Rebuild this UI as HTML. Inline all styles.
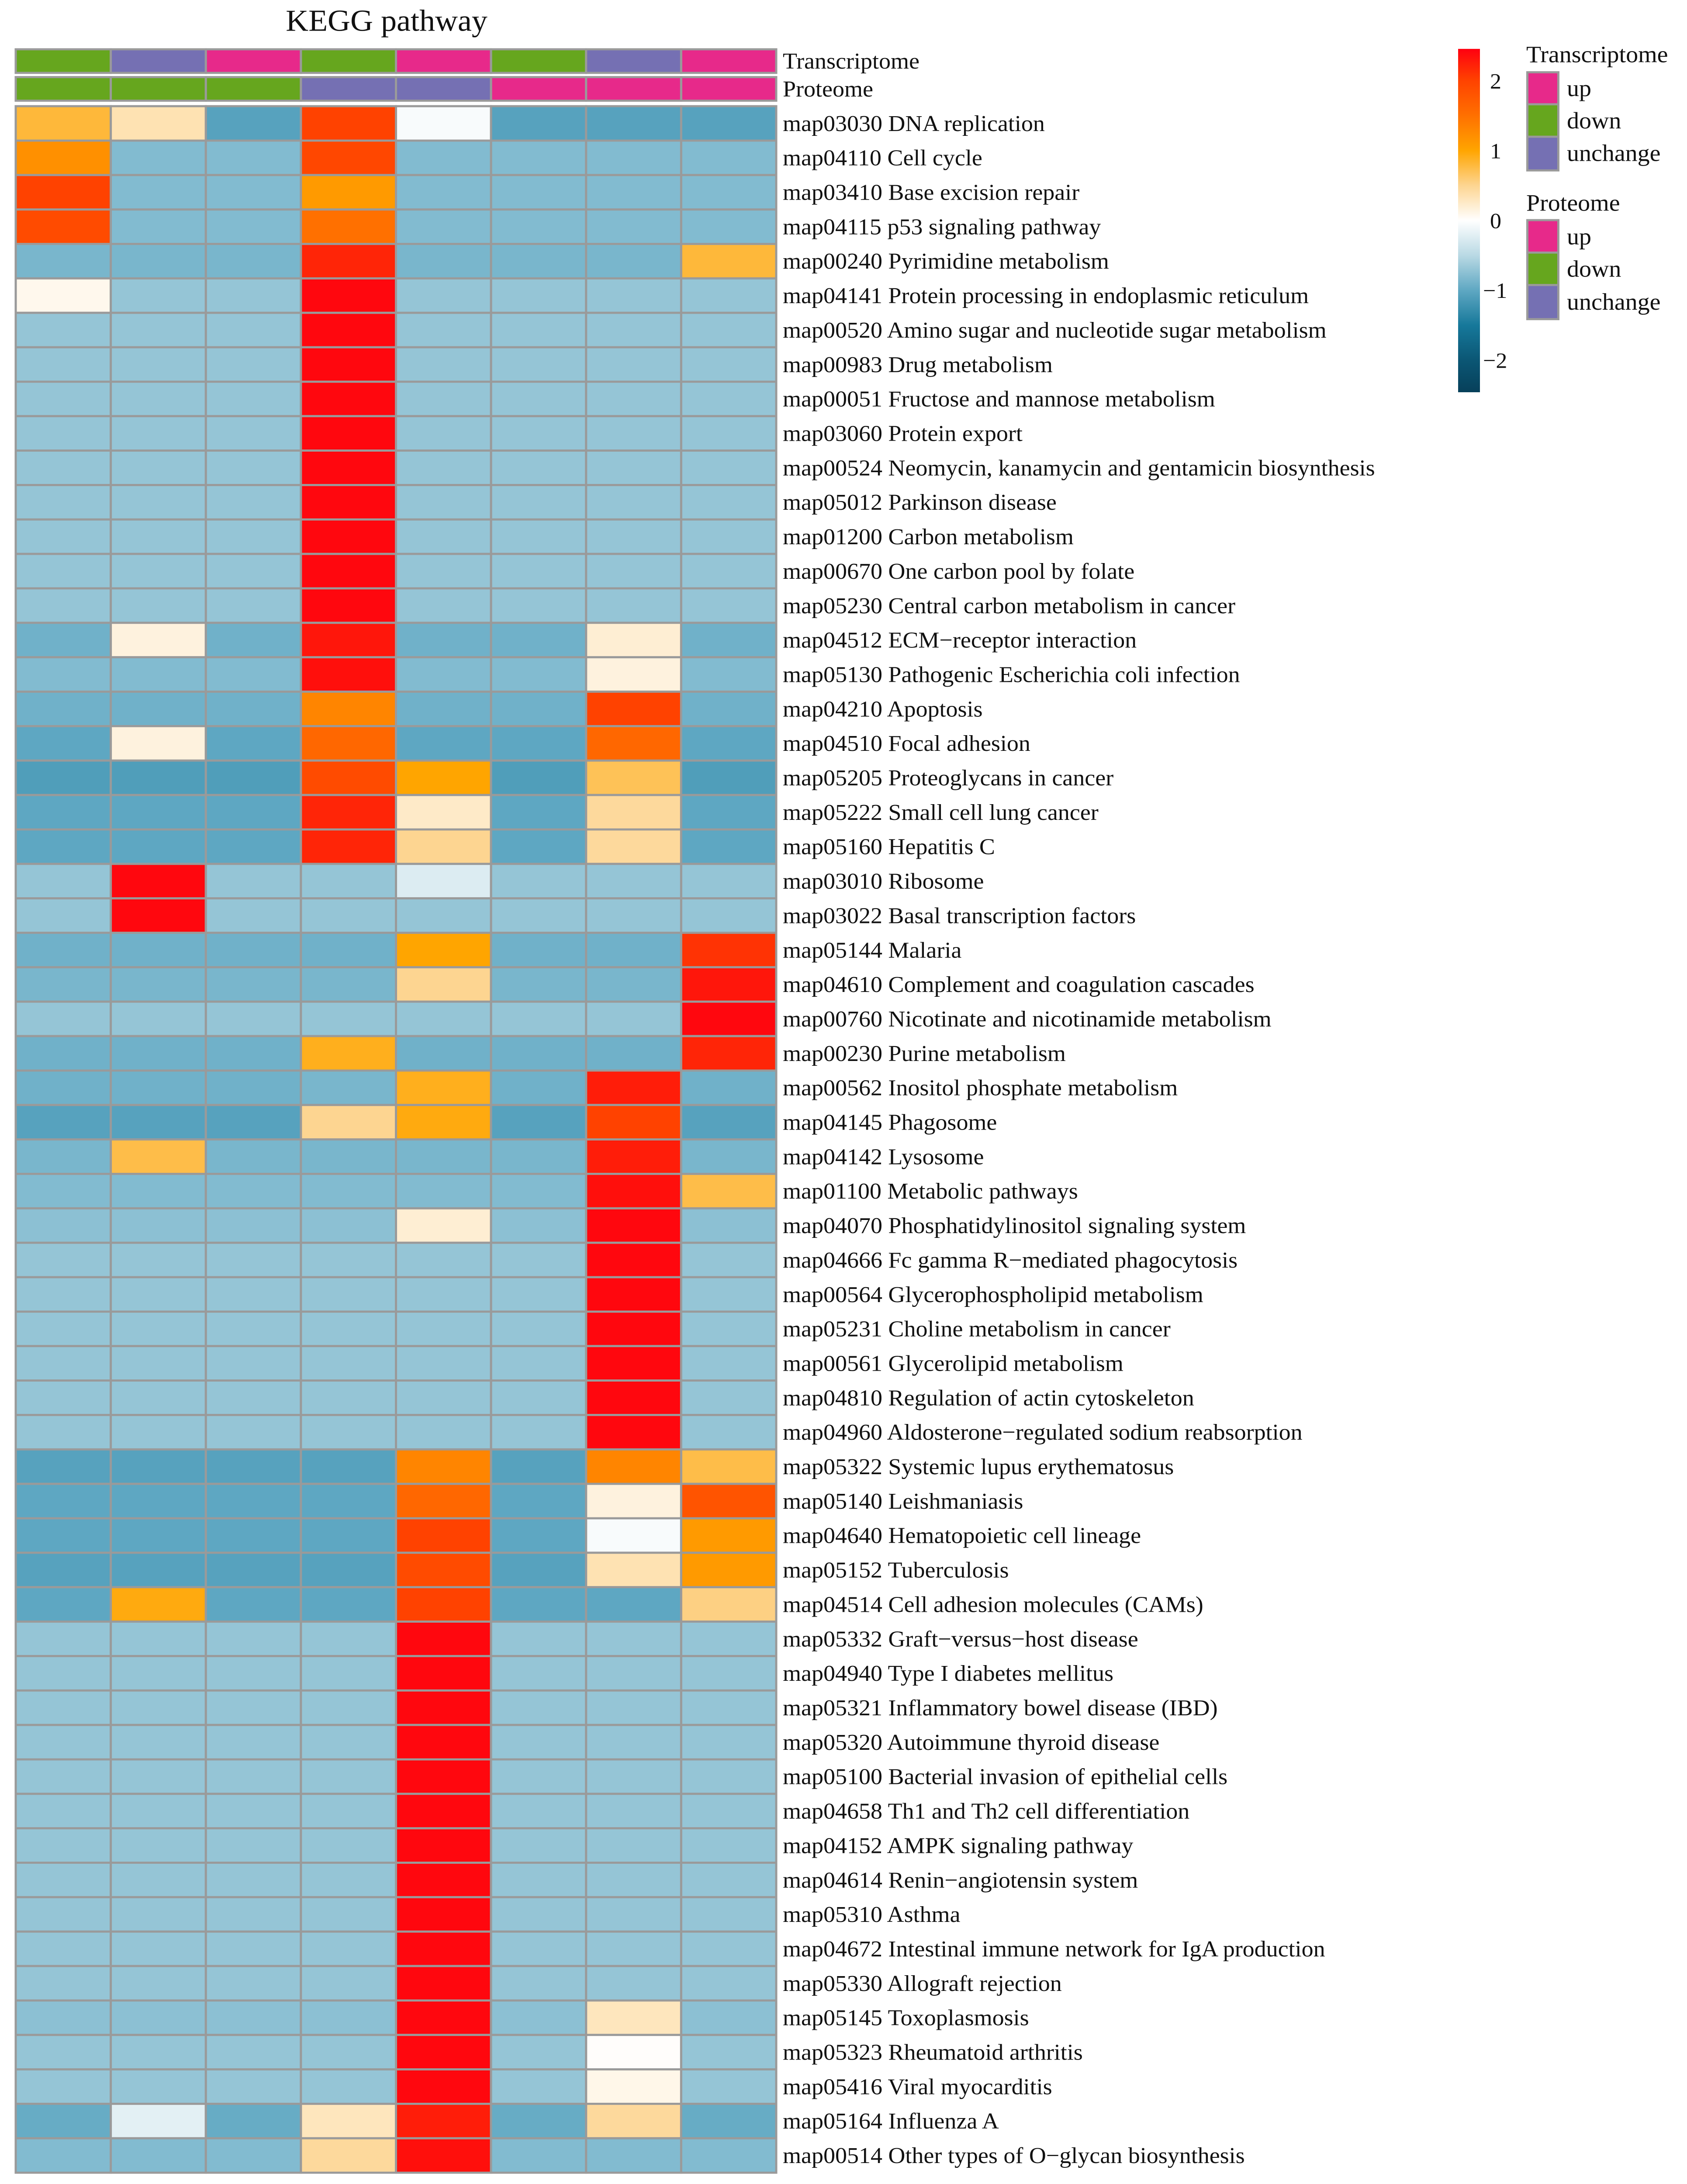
<!DOCTYPE html>
<html><head><meta charset="utf-8"><style>
html,body{margin:0;padding:0;background:#fff;width:3862px;height:5005px;overflow:hidden}
svg{display:block;position:absolute;left:0;top:0}
text{font-family:"Liberation Serif",serif;fill:#111}
</style></head><body>
<svg id="chart" width="3862" height="5005" viewBox="0 0 3862 5189" preserveAspectRatio="none" xmlns="http://www.w3.org/2000/svg">
<defs>
<linearGradient id="cbar" x1="0" y1="1" x2="0" y2="0">
<stop offset="0" stop-color="#07405a"/><stop offset="0.092" stop-color="#0b5674"/><stop offset="0.194" stop-color="#16789a"/><stop offset="0.296" stop-color="#5ea7c2"/><stop offset="0.398" stop-color="#b9d9e4"/><stop offset="0.5" stop-color="#ffffff"/><stop offset="0.602" stop-color="#fdd591"/><stop offset="0.704" stop-color="#ffa500"/><stop offset="0.806" stop-color="#ff7000"/><stop offset="0.908" stop-color="#ff4200"/><stop offset="1" stop-color="#ff0010"/>
</linearGradient>
</defs>
<text x="885" y="73" font-size="72" text-anchor="middle">KEGG pathway</text>
<g id="anno"></g><g id="cells"></g><g id="labels"></g>
<g>
<rect x="3338" y="116" width="50" height="815" fill="url(#cbar)"/>
<text x="3411" y="210" font-size="52">2</text>
<text x="3411" y="376" font-size="52">1</text>
<text x="3411" y="541" font-size="52">0</text>
<text x="3395" y="707" font-size="52">−1</text>
<text x="3395" y="873" font-size="52">−2</text>
</g>
<g>
<text x="3494" y="148" font-size="56">Transcriptome</text>
<rect x="3494" y="169" width="76" height="238" fill="#9a9a9a"/>
<rect x="3499" y="174" width="66" height="71" fill="#e7298a"/>
<rect x="3499" y="250" width="66" height="72" fill="#66a61e"/>
<rect x="3499" y="327" width="66" height="75" fill="#7570b3"/>
<text x="3587" y="228" font-size="56">up</text>
<text x="3587" y="305" font-size="56">down</text>
<text x="3587" y="382" font-size="56">unchange</text>
</g>
<g>
<text x="3494" y="500" font-size="56">Proteome</text>
<rect x="3494" y="520" width="76" height="240" fill="#9a9a9a"/>
<rect x="3499" y="525" width="66" height="72" fill="#e7298a"/>
<rect x="3499" y="602" width="66" height="72" fill="#66a61e"/>
<rect x="3499" y="679" width="66" height="76" fill="#7570b3"/>
<text x="3587" y="580" font-size="56">up</text>
<text x="3587" y="657" font-size="56">down</text>
<text x="3587" y="735" font-size="56">unchange</text>
</g>
</svg>
<script>
const pathways = ["map03030 DNA replication","map04110 Cell cycle","map03410 Base excision repair","map04115 p53 signaling pathway","map00240 Pyrimidine metabolism","map04141 Protein processing in endoplasmic reticulum","map00520 Amino sugar and nucleotide sugar metabolism","map00983 Drug metabolism","map00051 Fructose and mannose metabolism","map03060 Protein export","map00524 Neomycin, kanamycin and gentamicin biosynthesis","map05012 Parkinson disease","map01200 Carbon metabolism","map00670 One carbon pool by folate","map05230 Central carbon metabolism in cancer","map04512 ECM−receptor interaction","map05130 Pathogenic Escherichia coli infection","map04210 Apoptosis","map04510 Focal adhesion","map05205 Proteoglycans in cancer","map05222 Small cell lung cancer","map05160 Hepatitis C","map03010 Ribosome","map03022 Basal transcription factors","map05144 Malaria","map04610 Complement and coagulation cascades","map00760 Nicotinate and nicotinamide metabolism","map00230 Purine metabolism","map00562 Inositol phosphate metabolism","map04145 Phagosome","map04142 Lysosome","map01100 Metabolic pathways","map04070 Phosphatidylinositol signaling system","map04666 Fc gamma R−mediated phagocytosis","map00564 Glycerophospholipid metabolism","map05231 Choline metabolism in cancer","map00561 Glycerolipid metabolism","map04810 Regulation of actin cytoskeleton","map04960 Aldosterone−regulated sodium reabsorption","map05322 Systemic lupus erythematosus","map05140 Leishmaniasis","map04640 Hematopoietic cell lineage","map05152 Tuberculosis","map04514 Cell adhesion molecules (CAMs)","map05332 Graft−versus−host disease","map04940 Type I diabetes mellitus","map05321 Inflammatory bowel disease (IBD)","map05320 Autoimmune thyroid disease","map05100 Bacterial invasion of epithelial cells","map04658 Th1 and Th2 cell differentiation","map04152 AMPK signaling pathway","map04614 Renin−angiotensin system","map05310 Asthma","map04672 Intestinal immune network for IgA production","map05330 Allograft rejection","map05145 Toxoplasmosis","map05323 Rheumatoid arthritis","map05416 Viral myocarditis","map05164 Influenza A","map00514 Other types of O−glycan biosynthesis"];
const transcriptomeGroups = ["down","unchange","up","down","up","down","unchange","up"];
const proteomeGroups = ["down","down","down","unchange","unchange","up","up","up"];
const values = [
[0.8,0.35,-1.05,2.0,-0.05,-1.05,-1.05,-1.05],
[1.2,-0.8,-0.8,1.95,-0.8,-0.8,-0.8,-0.8],
[2.0,-0.8,-0.8,1.1,-0.8,-0.8,-0.8,-0.8],
[1.9,-0.8,-0.8,1.5,-0.8,-0.8,-0.8,-0.8],
[-0.85,-0.85,-0.85,2.2,-0.85,-0.85,-0.85,0.8],
[0.08,-0.7,-0.7,2.4,-0.7,-0.7,-0.7,-0.7],
[-0.7,-0.7,-0.7,2.4,-0.7,-0.7,-0.7,-0.7],
[-0.7,-0.7,-0.7,2.4,-0.7,-0.7,-0.7,-0.7],
[-0.7,-0.7,-0.7,2.4,-0.7,-0.7,-0.7,-0.7],
[-0.7,-0.7,-0.7,2.4,-0.7,-0.7,-0.7,-0.7],
[-0.7,-0.7,-0.7,2.4,-0.7,-0.7,-0.7,-0.7],
[-0.7,-0.7,-0.7,2.4,-0.7,-0.7,-0.7,-0.7],
[-0.7,-0.7,-0.7,2.4,-0.7,-0.7,-0.7,-0.7],
[-0.7,-0.7,-0.7,2.4,-0.7,-0.7,-0.7,-0.7],
[-0.7,-0.7,-0.7,2.4,-0.7,-0.7,-0.7,-0.7],
[-0.9,0.15,-0.9,2.3,-0.9,-0.9,0.2,-0.9],
[-0.8,-0.8,-0.8,2.35,-0.8,-0.8,0.15,-0.8],
[-0.9,-0.9,-0.9,1.3,-0.9,-0.9,2.0,-0.9],
[-1.0,0.15,-1.0,1.6,-1.0,-1.0,1.6,-1.0],
[-1.1,-1.1,-1.1,1.9,1.0,-1.1,0.7,-1.1],
[-1.0,-1.0,-1.0,2.2,0.25,-1.0,0.45,-1.0],
[-1.0,-1.0,-1.0,2.2,0.5,-1.0,0.45,-1.0],
[-0.7,2.4,-0.7,-0.7,-0.25,-0.7,-0.7,-0.7],
[-0.7,2.4,-0.7,-0.7,-0.7,-0.7,-0.7,-0.7],
[-0.9,-0.9,-0.9,-0.9,1.0,-0.9,-0.9,2.1],
[-0.85,-0.85,-0.85,-0.85,0.5,-0.85,-0.85,2.3],
[-0.7,-0.7,-0.7,-0.7,-0.7,-0.7,-0.7,2.4],
[-0.9,-0.9,-0.9,0.9,-0.9,-0.9,-0.9,2.2],
[-0.9,-0.9,-0.9,-0.85,0.9,-0.9,2.25,-0.9],
[-1.05,-1.05,-1.05,0.5,0.95,-1.05,2.0,-1.05],
[-0.85,0.75,-0.85,-0.85,-0.85,-0.85,2.25,-0.85],
[-0.8,-0.8,-0.8,-0.8,-0.8,-0.8,2.35,0.75],
[-0.75,-0.75,-0.75,-0.75,0.2,-0.75,2.4,-0.75],
[-0.7,-0.7,-0.7,-0.7,-0.7,-0.7,2.4,-0.7],
[-0.7,-0.7,-0.7,-0.7,-0.7,-0.7,2.4,-0.7],
[-0.7,-0.7,-0.7,-0.7,-0.7,-0.7,2.4,-0.7],
[-0.7,-0.7,-0.7,-0.7,-0.7,-0.7,2.4,-0.7],
[-0.7,-0.7,-0.7,-0.7,-0.7,-0.7,2.4,-0.7],
[-0.7,-0.7,-0.7,-0.7,-0.7,-0.7,2.4,-0.7],
[-1.05,-1.05,-1.05,-1.05,1.3,-1.05,1.3,0.75],
[-1.0,-1.0,-1.0,-1.0,1.6,-1.0,0.15,1.8],
[-1.0,-1.0,-1.0,-1.0,2.0,-1.0,-0.05,1.1],
[-1.05,-1.05,-1.05,-1.05,1.9,-1.05,0.35,1.1],
[-1.0,0.95,-1.0,-1.0,2.0,-1.0,-1.0,0.55],
[-0.7,-0.7,-0.7,-0.7,2.4,-0.7,-0.7,-0.7],
[-0.7,-0.7,-0.7,-0.7,2.4,-0.7,-0.7,-0.7],
[-0.7,-0.7,-0.7,-0.7,2.4,-0.7,-0.7,-0.7],
[-0.7,-0.7,-0.7,-0.7,2.4,-0.7,-0.7,-0.7],
[-0.7,-0.7,-0.7,-0.7,2.4,-0.7,-0.7,-0.7],
[-0.7,-0.7,-0.7,-0.7,2.4,-0.7,-0.7,-0.7],
[-0.7,-0.7,-0.7,-0.7,2.4,-0.7,-0.7,-0.7],
[-0.7,-0.7,-0.7,-0.7,2.4,-0.7,-0.7,-0.7],
[-0.7,-0.7,-0.7,-0.7,2.4,-0.7,-0.7,-0.7],
[-0.7,-0.7,-0.7,-0.7,2.4,-0.7,-0.7,-0.7],
[-0.7,-0.7,-0.7,-0.7,2.4,-0.7,-0.7,-0.7],
[-0.75,-0.75,-0.75,-0.75,2.4,-0.75,0.3,-0.75],
[-0.7,-0.7,-0.7,-0.7,2.4,-0.7,0.02,-0.7],
[-0.7,-0.7,-0.7,-0.7,2.4,-0.7,0.1,-0.7],
[-0.95,-0.2,-0.95,0.3,2.25,-0.95,0.45,-0.95],
[-0.8,-0.8,-0.8,0.45,2.35,-0.8,-0.8,-0.8]
];
const groupColors = {up:"#e7298a",down:"#66a61e",unchange:"#7570b3"};
const stops = [[-2.45,[7,64,90]],[-2,[11,86,116]],[-1.5,[22,120,154]],[-1,[94,167,194]],[-0.5,[185,217,228]],[0,[255,255,255]],[0.5,[253,213,145]],[1,[255,165,0]],[1.5,[255,112,0]],[2,[255,66,0]],[2.45,[255,0,16]]];
function color(v){
  if(v<=stops[0][0]) return 'rgb('+stops[0][1]+')';
  for(let i=1;i<stops.length;i++){
    if(v<=stops[i][0]){
      const a=stops[i-1],b=stops[i],t=(v-a[0])/(b[0]-a[0]);
      return 'rgb('+a[1].map((c,k)=>Math.round(c+(b[1][k]-c)*t)).join(',')+')';
    }
  }
  return 'rgb('+stops[stops.length-1][1]+')';
}
const NS="http://www.w3.org/2000/svg";
const x0=36, x1=1777, y0=252, y1=5157;
const cw=(x1-x0)/transcriptomeGroups.length, rh=(y1-y0)/pathways.length;
const xPos=j=>x0+j*cw, yPos=i=>y0+i*rh;
const gA=document.getElementById('anno'), gC=document.getElementById('cells'), gL=document.getElementById('labels');
function rect(g,x,y,w,h,fill){
  const r=document.createElementNS(NS,'rect');
  r.setAttribute('x',x);r.setAttribute('y',y);r.setAttribute('width',w);r.setAttribute('height',h);
  r.setAttribute('fill',fill);r.setAttribute('stroke','#9a9a9a');r.setAttribute('stroke-width',5);
  g.appendChild(r);return r;
}
function txt(g,x,y,s,size){
  const t=document.createElementNS(NS,'text');
  t.setAttribute('x',x);t.setAttribute('y',y);t.setAttribute('font-size',size);t.textContent=s;
  g.appendChild(t);return t;
}
[[transcriptomeGroups,117,'transcriptome'],[proteomeGroups,183,'proteome']].forEach(([arr,yy,nm])=>{
  arr.forEach((gname,j)=>{
    const r=rect(gA,xPos(j),yy,cw,56,groupColors[gname]);
    
    
  });
  const t=txt(gA,1792,yy+46,nm==='transcriptome'?'Transcriptome':'Proteome',54);
  
  
});
values.forEach((row,i)=>{
  row.forEach((v,j)=>{
    const r=rect(gC,xPos(j),yPos(i),cw,rh,color(v));
    
    
  });
  const t=txt(gL,1792,yPos(i)+rh/2+18,pathways[i],54);
  
  
});
</script>
</body></html>
